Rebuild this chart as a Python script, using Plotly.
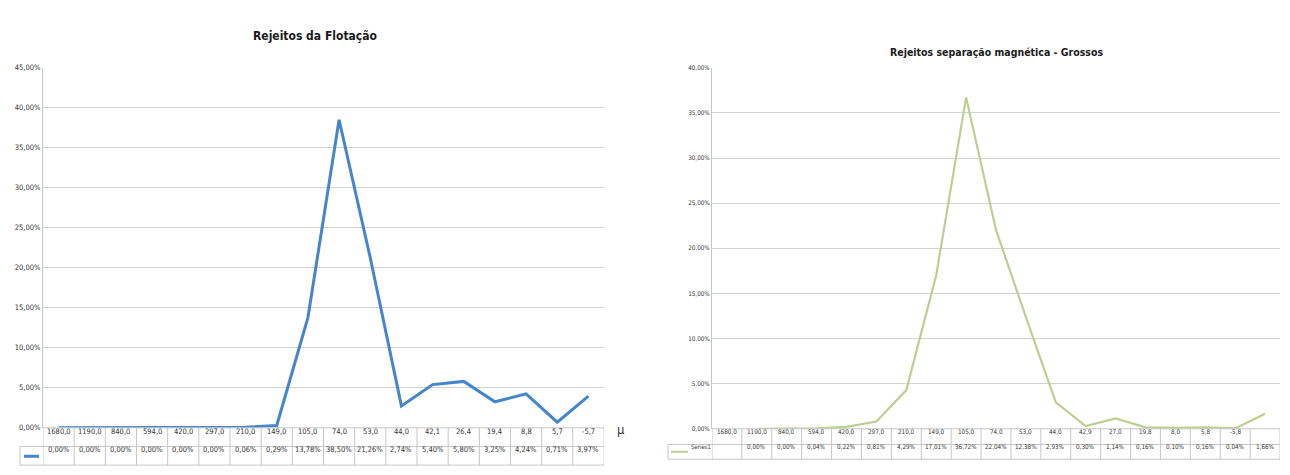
import plotly.graph_objects as go

W, H = 1290, 475

# ---------------- data ----------------
flot_labels = ["1680,0", "1190,0", "840,0", "594,0", "420,0", "297,0", "210,0", "149,0",
               "105,0", "74,0", "53,0", "44,0", "42,1", "26,4", "19,4", "8,8", "5,7", "-5,7"]
flot_values = [0.0000, 0.0000, 0.0000, 0.0000, 0.0000, 0.0000, 0.0006, 0.0029,
               0.1378, 0.3850, 0.2126, 0.0274, 0.0540, 0.0580, 0.0325, 0.0424, 0.0071, 0.0397]

mag_labels = ["1680,0", "1190,0", "840,0", "594,0", "420,0", "297,0", "210,0", "149,0",
              "105,0", "74,0", "53,0", "44,0", "42,9", "27,0", "19,8", "8,0", "5,8", "-5,8", ""]
mag_values = [None, 0.0000, 0.0000, 0.0004, 0.0022, 0.0081, 0.0429, 0.1701,
              0.3672, 0.2204, 0.1238, 0.0293, 0.0030, 0.0114, 0.0016, 0.0010, 0.0016, 0.0004, 0.0166]

title1 = "Rejeitos da Flotação"
title2 = "Rejeitos separação magnética - Grossos"
series2_name = "Series1"

BLUE = "#4485cc"
GREEN = "#bccf8f"
GRID = "#d2d2d2"
BORDER = "#c6c6c6"
TXT = "#333333"
FONT = "Liberation Sans Narrow, DejaVu Sans Condensed, Liberation Sans, sans-serif"


def px(x):
    return x / W


def py(y):
    return 1 - y / H


def fmt_pct(v):
    if v is None:
        return ""
    return ("%.2f%%" % (v * 100)).replace(".", ",")


fig = go.Figure()

x1 = list(range(len(flot_labels)))
x2 = list(range(len(mag_labels)))

fig.add_trace(go.Scatter(x=x1, y=flot_values, mode="lines",
                         line=dict(color=BLUE, width=3), xaxis="x", yaxis="y",
                         showlegend=False, hoverinfo="skip"))
fig.add_trace(go.Scatter(x=x2, y=mag_values, mode="lines",
                         line=dict(color=GREEN, width=2.2), xaxis="x2", yaxis="y2",
                         showlegend=False, hoverinfo="skip", connectgaps=False))

# plot area geometry (pixels)
L1, R1, T1, B1 = 43, 604, 65, 432
L2, R2, T2, B2 = 712, 1280, 65, 433

layout = dict(
    width=W, height=H,
    margin=dict(l=0, r=0, t=0, b=0),
    paper_bgcolor="white", plot_bgcolor="white",
    separators=",.",
    font=dict(family=FONT, color=TXT),
    xaxis=dict(domain=[px(L1), px(R1)], range=[-0.5, len(flot_labels) - 0.5],
               showticklabels=False, showgrid=False, zeroline=False, showline=False,
               anchor="y"),
    yaxis=dict(domain=[py(B1), py(T1)], range=[0, 0.45], dtick=0.05, tickformat=".2%",
               showgrid=True, gridcolor=GRID, gridwidth=1, zeroline=False,
               showline=True, linecolor=BORDER, linewidth=1, ticks="",
               tickfont=dict(size=7.5, color=TXT), anchor="x"),
    xaxis2=dict(domain=[px(L2), px(R2)], range=[-0.5, len(mag_labels) - 0.5],
                showticklabels=False, showgrid=False, zeroline=False, showline=False,
                anchor="y2"),
    yaxis2=dict(domain=[py(B2), py(T2)], range=[0, 0.40], dtick=0.05, tickformat=".2%",
                showgrid=True, gridcolor=GRID, gridwidth=1, zeroline=False,
                showline=True, linecolor=BORDER, linewidth=1, ticks="",
                tickfont=dict(size=6.3, color=TXT), anchor="x2"),
)
fig.update_layout(**layout)

shapes = []
annotations = []


def hline(x0, x1_, y, xref="paper"):
    shapes.append(dict(type="line", xref=xref, yref="paper", x0=x0, x1=x1_,
                       y0=py(y), y1=py(y), line=dict(color=BORDER, width=1)))


def vline(x, y0, y1, xref="paper"):
    shapes.append(dict(type="line", xref=xref, yref="paper", x0=x, x1=x,
                       y0=py(y0), y1=py(y1), line=dict(color=BORDER, width=1)))


# ---------- table 1 ----------
row1_top, row1_mid, row1_bot, key1_left = B1, 451, 470, 20
hline(px(L1), px(R1), row1_top)
hline(px(key1_left), px(R1), row1_mid)
hline(px(key1_left), px(R1), row1_bot)
vline(px(key1_left), row1_mid, row1_bot)
for i in range(len(flot_labels) + 1):
    vline(i - 0.5, row1_top, row1_bot, xref="x")
for i, (lab, v) in enumerate(zip(flot_labels, flot_values)):
    annotations.append(dict(x=i, xref="x", y=py(442), yref="paper", text=lab,
                            xanchor="center", showarrow=False, font=dict(size=7.5, color=TXT)))
    annotations.append(dict(x=i, xref="x", y=py(461), yref="paper", text=fmt_pct(v),
                            xanchor="center", showarrow=False, font=dict(size=7.5, color=TXT)))
shapes.append(dict(type="line", xref="paper", yref="paper", x0=px(24), x1=px(39),
                   y0=py(461), y1=py(461), line=dict(color=BLUE, width=3)))
annotations.append(dict(x=px(621), xref="paper", xanchor="center", y=py(443), yref="paper",
                        text="µ", showarrow=False, font=dict(size=13, color="#333333")))
annotations.append(dict(x=px(315), xref="paper", xanchor="center", y=py(23), yref="paper",
                        text="<b>" + title1 + "</b>", showarrow=False,
                        font=dict(size=12, color="#1a1a1a")))

# ---------- table 2 ----------
row2_top, row2_mid, row2_bot, key2_left = B2, 449, 464, 668
hline(px(L2), px(R2), row2_top)
hline(px(key2_left), px(R2), row2_mid)
hline(px(key2_left), px(R2), row2_bot)
vline(px(key2_left), row2_mid, row2_bot)
for i in range(len(mag_labels) + 1):
    vline(i - 0.5, row2_top, row2_bot, xref="x2")
for i, (lab, v) in enumerate(zip(mag_labels, mag_values)):
    annotations.append(dict(x=i, xref="x2", y=py(441), yref="paper", text=lab,
                            xanchor="center", showarrow=False, font=dict(size=6.3, color=TXT)))
    annotations.append(dict(x=i, xref="x2", y=py(456.5), yref="paper", text=fmt_pct(v),
                            xanchor="center", showarrow=False, font=dict(size=6.3, color=TXT)))
shapes.append(dict(type="line", xref="paper", yref="paper", x0=px(671), x1=px(688),
                   y0=py(456.5), y1=py(456.5), line=dict(color=GREEN, width=2)))
annotations.append(dict(x=px(689), xref="paper", xanchor="left", y=py(456.5), yref="paper",
                        text=series2_name, showarrow=False,
                        font=dict(size=6, color=TXT)))
annotations.append(dict(x=px(996), xref="paper", xanchor="center", y=py(41), yref="paper",
                        text="<b>" + title2 + "</b>", showarrow=False,
                        font=dict(size=10.5, color="#1a1a1a")))

fig.update_layout(shapes=shapes, annotations=annotations)
fig.write_html("out.html")
